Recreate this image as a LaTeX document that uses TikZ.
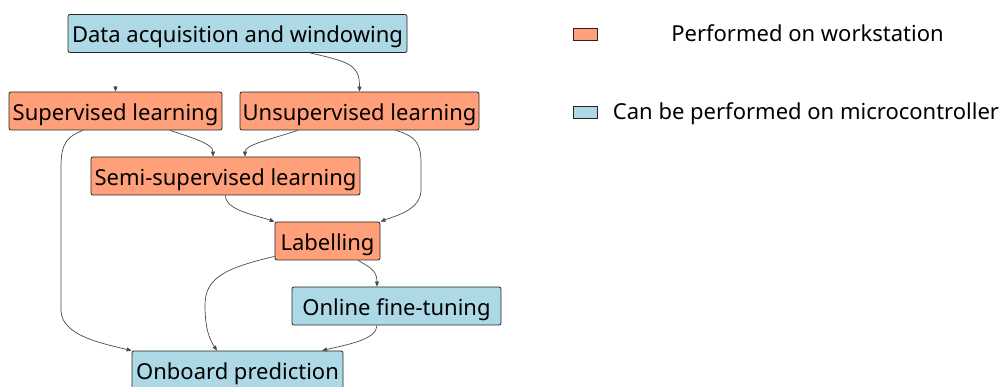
\documentclass[tikz,border=0pt]{standalone}
\usepackage{fontspec}
\setmainfont{Noto Sans}
\usetikzlibrary{arrows.meta,calc}
\definecolor{ws}{HTML}{FFA07A}
\definecolor{mc}{HTML}{ADD8E6}
\definecolor{edgec}{HTML}{4A4A4A}
\begin{document}
\begin{tikzpicture}[x=1pt,y=-1pt,
  box/.style={draw=black!85,line width=0.8pt,rounded corners=2pt,minimum height=38pt,inner sep=0pt,text height=19pt,text depth=0.6pt,font=\fontsize{22}{24}\selectfont},
  wsbox/.style={box,fill=ws},
  mcbox/.style={box,fill=mc},
  swatch/.style={draw=black!85,line width=0.8pt,minimum width=24pt,minimum height=12pt,inner sep=0pt},
  legtext/.style={font=\fontsize{22}{24}\selectfont,inner sep=0pt,anchor=base},
  conn/.style={draw=edgec,line width=0.7pt,-{Triangle[length=5pt,width=4pt]}}]
\useasboundingbox (0,0) rectangle (1002,387);
\clip (0,0) rectangle (1002,387);
\node[mcbox,minimum width=339pt] (data) at (237.5,33.5) {Data acquisition and windowing};
\node[wsbox,minimum width=213pt] (sup) at (115.5,111) {Supervised learning};
\node[wsbox,minimum width=239pt] (unsup) at (359.5,111) {Unsupervised learning};
\node[wsbox,minimum width=269pt] (semi) at (225.5,176) {Semi-supervised learning};
\node[wsbox,minimum width=105pt] (lab) at (327.5,241) {Labelling};
\node[mcbox,minimum width=209pt] (online) at (396.5,306) {Online fine-tuning};
\node[mcbox,minimum width=211pt] (onboard) at (237.5,370) {Onboard prediction};
% legend
\node[swatch,fill=ws] (sw1) at (585,34) {};
\node[legtext] (lt1) at (807.5,42) {Performed on workstation};
\node[swatch,fill=mc] (sw2) at (585,112) {};
\node[legtext] (lt2) at (806,120) {Can be performed on microcontroller};
% edges
\coordinate (supin) at (115.5,86);
\draw[conn] (supin) -- (sup.north);
\draw[conn] ([xshift=72.5pt]data.south) .. controls (350,62) and (359.5,65) .. (unsup.north);
\draw[conn] ([xshift=54.5pt]sup.south) .. controls (200,140) and (213,145) .. ([xshift=-12.5pt]semi.north);
\draw[conn] ([xshift=-61.5pt]unsup.south) .. controls (268,140) and (245,145) .. ([xshift=19.5pt]semi.north);
\draw[conn] ([xshift=-32.5pt]sup.south) .. controls (62,138) and (61,150) .. (61,170) -- (61,310) .. controls (61,335) and (100,343) .. (onboard.north west);
\draw[conn] ([xshift=36.5pt]unsup.south) .. controls (418,137) and (421,145) .. (421,165) -- (421,190) .. controls (421,210) and (395,216) .. (lab.north east);
\draw[conn] (semi.south) .. controls (225,210) and (255,215) .. (lab.north west);
\draw[conn] ([yshift=4pt]lab.south west) .. controls (225,268) and (205,278) .. (205,305) .. controls (205,330) and (210,340) .. ([xshift=-20.5pt]onboard.north);
\draw[conn] ([xshift=30.5pt]lab.south) .. controls (372,268) and (377,272) .. ([xshift=-19.5pt]online.north);
\draw[conn] ([xshift=-19.5pt]online.south) .. controls (377,340) and (345,345) .. ([xshift=84.5pt]onboard.north);
\end{tikzpicture}
\end{document}
